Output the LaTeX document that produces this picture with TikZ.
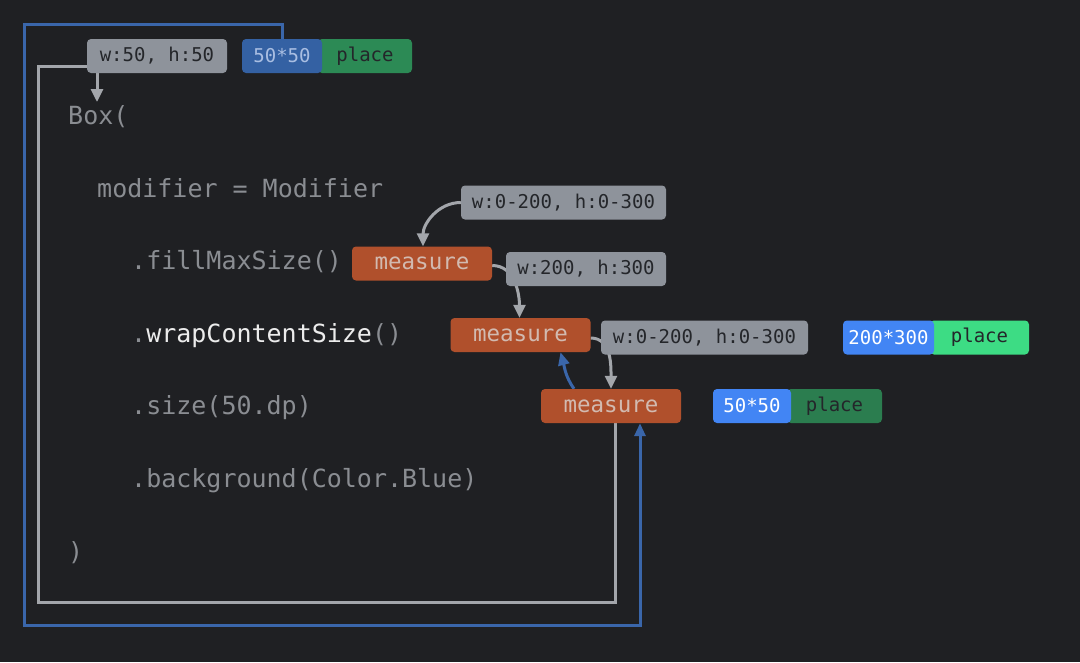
\documentclass[tikz,border=0pt]{standalone}
\usepackage{fontspec}
\newfontfamily\codefont{DejaVu Sans Mono}
\usetikzlibrary{arrows.meta,positioning}

\definecolor{bg}{HTML}{1F2023}
\definecolor{codegrey}{HTML}{8A8D92}
\definecolor{codewhite}{HTML}{ECECEC}
\definecolor{lblgrey}{HTML}{8E939B}
\definecolor{lbltext}{HTML}{24262A}
\definecolor{measfill}{HTML}{B0502C}
\definecolor{meastext}{HTML}{D2BAB0}
\definecolor{dimblue}{HTML}{3461A3}
\definecolor{dimbluetext}{HTML}{A9BEE2}
\definecolor{dimgreen}{HTML}{2C8A55}
\definecolor{brightblue}{HTML}{4285F4}
\definecolor{brightgreen}{HTML}{3DDC84}
\definecolor{midgreen}{HTML}{2B7D4F}
\definecolor{lineblue}{HTML}{3A66AA}
\definecolor{linegrey}{HTML}{A3A6AB}

\pgfdeclarelayer{canvas}
\pgfdeclarelayer{links}
\pgfsetlayers{canvas,links,main}

\begin{document}
\begin{tikzpicture}[
    x=1pt, y=-1pt,
    every node/.style={inner sep=0pt},
    code/.style={anchor=base west, text=codegrey,
        font=\codefont\fontsize{25}{25}\selectfont},
    tag/.style={rounded corners=4pt, minimum height=34pt,
        font=\codefont\fontsize{19}{19}\selectfont},
    lbl/.style={tag, fill=lblgrey, text=lbltext},
    meas/.style={tag, fill=measfill, text=meastext,
        minimum width=140pt, font=\codefont\fontsize{22.5}{22.5}\selectfont},
    numbox/.style={tag, text=white},
    plcbox/.style={tag, text=lbltext},
    greyline/.style={draw=linegrey, line width=3pt},
    blueline/.style={draw=lineblue, line width=3pt},
    greyarrow/.style={greyline, -{Triangle[length=13pt,width=12pt]}},
    bluearrow/.style={blueline, -{Triangle[length=13pt,width=11pt]}}
]

\begin{pgfonlayer}{canvas}
\fill[bg] (0,0) rectangle (1080,662);
\end{pgfonlayer}

% code lines
\node[code] (lbox)   at (68,124) {Box(};
\node[code] (lmod)   at (97,197) {modifier = Modifier};
\node[code] (lfill)  at (131,269) {.fillMaxSize()};
\node[code] (lwrap)  at (131,342) {.{\color{codewhite}wrapContentSize}()};
\node[code] (lsize)  at (131,414) {.size(50.dp)};
\node[code] (lback)  at (131,487) {.background(Color.Blue)};
\node[code] (lclose) at (68,560) {)};

% constraints and sizes
\node[lbl, minimum width=140pt] (wfifty) at (157,56)    {w:50, h:50};
\node[lbl, minimum width=205pt] (wlim1)  at (563.5,202.5) {w:0-200, h:0-300};
\node[lbl, minimum width=160pt] (wexact) at (586,269)   {w:200, h:300};
\node[lbl, minimum width=207pt] (wlim2)  at (704.5,337.5) {w:0-200, h:0-300};

% measure steps
\node[meas] (m1) at (422,263.5) {measure};
\node[meas] (m2) at (520.5,335) {measure};
\node[meas] (m3) at (611,406)   {measure};

% place results
\node[plcbox, fill=dimgreen, minimum width=94pt]   (p1) at (365,56)      {place};
\node[numbox, fill=dimblue, text=dimbluetext, minimum width=80pt] (n1) at (282,56) {50*50};
\node[plcbox, fill=brightgreen, minimum width=99pt] (p2) at (979.5,337.5) {place};
\node[numbox, fill=brightblue, minimum width=91pt]  (n2) at (888.5,337.5) {200*300};
\node[plcbox, fill=midgreen, minimum width=95pt]    (p3) at (834.5,406)   {place};
\node[numbox, fill=brightblue, minimum width=78pt]  (n3) at (752,406)     {50*50};

\coordinate (boxtop) at (97,102);

\begin{pgfonlayer}{links}
% constraints going down
\draw[greyarrow] (wlim1.west) to[out=180,in=90] ([xshift=1pt]m1.north);
\draw[greyarrow] ([yshift=-2pt]m1.east) to[out=0,in=90] ([xshift=-1pt]m2.north);
\draw[greyarrow] ([yshift=-3pt]m2.east) to[out=0,in=90] (m3.north);
\draw[bluearrow] ([xshift=-37pt]m3.north) to[out=125,in=-75] ([xshift=40pt]m2.south);

% sizes going back up
\draw[greyline] ([xshift=4pt]m3.south) |- (38,602) |- ([yshift=-10pt]wfifty.west);
\draw[greyarrow] (wfifty.south -| boxtop) -- (boxtop);
\draw[bluearrow] (n1.north) |- (24,24) |- (640,625) -- ([xshift=29pt]m3.south);
\end{pgfonlayer}

\end{tikzpicture}
\end{document}
